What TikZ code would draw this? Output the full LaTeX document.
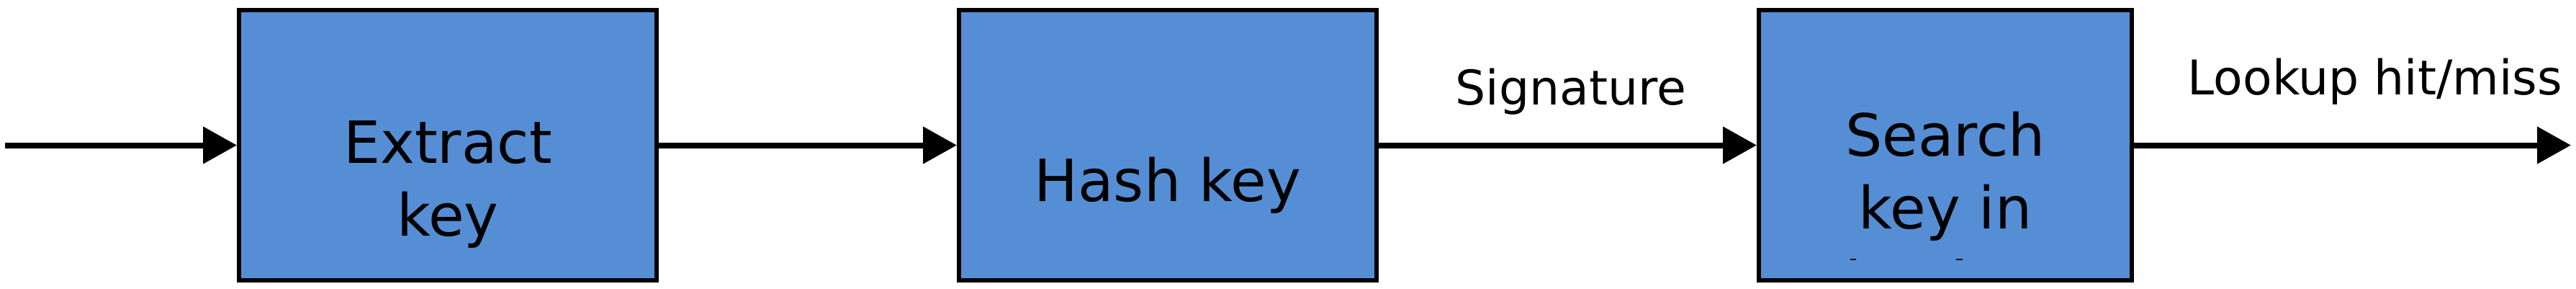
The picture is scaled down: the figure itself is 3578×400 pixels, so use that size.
\documentclass[tikz,border=0pt]{standalone}
\usepackage{fontspec}
\setmainfont{DejaVu Sans}
\usepackage{tikz}
\usetikzlibrary{arrows.meta}
\definecolor{blockblue}{HTML}{558ED5}
\tikzset{block/.style={rectangle,draw=black,line width=0.6mm,fill=blockblue,minimum height=37.5mm,inner sep=0pt}}
\tikzset{blocktext/.style={align=center,anchor=base,inner sep=0pt,font=\fontsize{23}{28.5}\selectfont}}
\tikzset{flow/.style={line width=0.8mm,-{Triangle[length=4.7mm,width=5mm]}}}
\tikzset{flowlabel/.style={anchor=base,inner sep=0pt,font=\fontsize{18.9}{22}\selectfont}}

\begin{document}
\begin{tikzpicture}[x=0.1mm,y=-0.1mm]
\useasboundingbox (0,0) rectangle (3578,400);

    \node[block, minimum width=58mm] (extract) at (622, 201.5){};
    \node[block, minimum width=58mm] (hash) at (1622, 201.5){};
    \node[block, minimum width=51.8mm] (search) at (2702, 201.5){};

    % base of a two-line text is its last line
    \node[blocktext] (extract-txt) at (622, 327){Extract\\key};
    \node[blocktext] (hash-txt) at (1622, 279){Hash key};
    \node[blocktext] (search-txt) at (2702, 317){Search\\key in};
    \draw[line width=0.2mm] (2570, 360) -- (2578, 360);
    \draw[line width=0.2mm] (2717, 360) -- (2726, 360);

    \coordinate (in) at (7, 201.5);
    \coordinate (out) at (3571, 201.5);
    \draw[flow] (in) -- (extract.west);
    \draw[flow] (extract.east) -- (hash.west);
    \draw[flow] (hash.east) -- (search.west);
    \draw[flow] (search.east) -- (out);

    \node[flowlabel] (signature) at (2182, 145){Signature};
    \node[flowlabel] (result) at (3299, 131){Lookup hit/miss};

\end{tikzpicture}
\end{document}
